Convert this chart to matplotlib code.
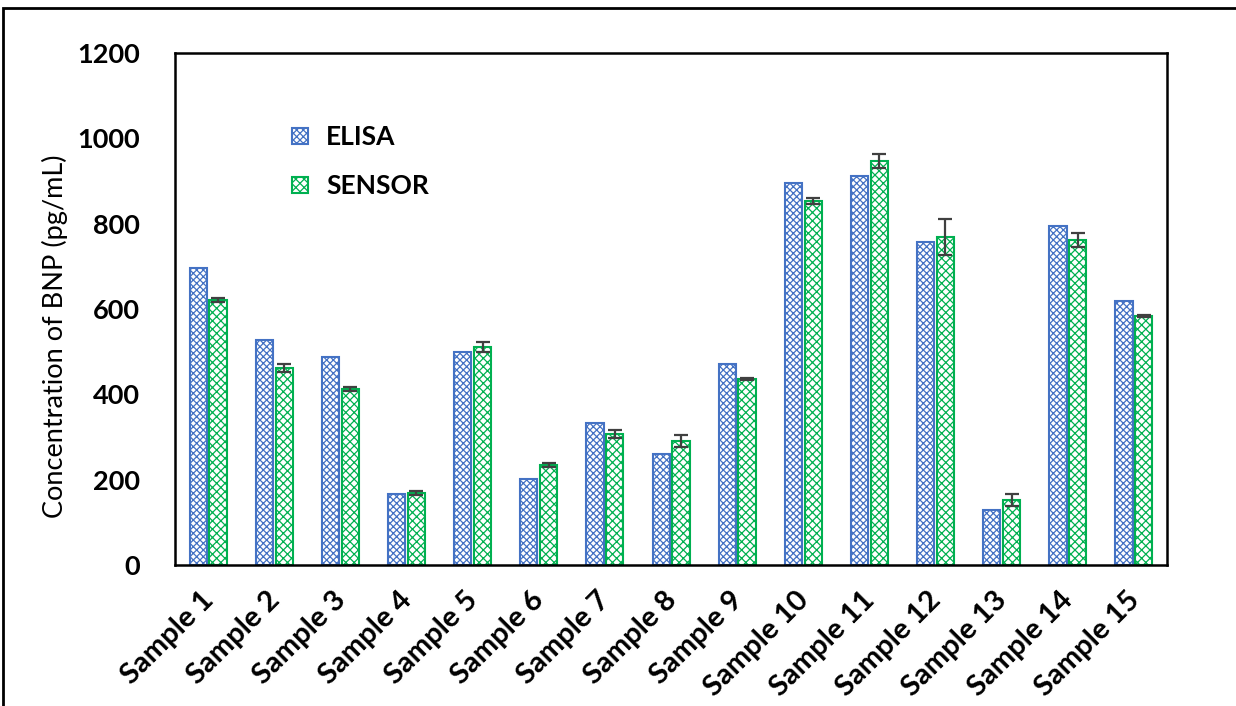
import numpy as np
import matplotlib.pyplot as plt
import matplotlib.transforms as mtransforms
from matplotlib.patches import Rectangle

samples = ['Sample %d' % i for i in range(1, 16)]
elisa = [696, 527, 487, 166, 499, 201, 333, 260, 471, 895, 912, 757, 129, 794, 619]
sensor = [621, 462, 412, 169, 511, 234, 307, 290, 436, 853, 947, 769, 152, 762, 584]
sensor_err = [4, 10, 4, 4, 12, 4, 10, 14, 3, 7, 17, 43, 14, 17, 3]

plt.rcParams['font.family'] = ['Lato', 'DejaVu Sans']
plt.rcParams['hatch.linewidth'] = 0.9

blue = '#4472C4'
green = '#00B050'

fig = plt.figure(figsize=(12.36, 7.06), dpi=100)
ax = fig.add_axes([0.1416, 0.1997, 0.8026, 0.7253])

x = np.arange(len(samples))
w = 0.26
ax.bar(x - w / 2 - 0.02, elisa, w, color='white', edgecolor=blue, hatch='xxxxx',
       linewidth=1.5, label='ELISA')
ax.bar(x + w / 2 + 0.02, sensor, w, color='white', edgecolor=green, hatch='xxxx',
       linewidth=1.5, label='SENSOR')
ax.errorbar(x + w / 2 + 0.02, sensor, yerr=sensor_err, fmt='none', ecolor='#404040',
            elinewidth=1.6, capsize=5, capthick=1.6)

ax.set_xlim(-0.5, len(samples) - 0.5)
ax.set_ylim(0, 1200)
ax.set_yticks(range(0, 1201, 200))
ax.set_xticks(x)
ax.set_xticklabels([])

# rotated category labels, nudged below the axis
lab_trans = ax.get_xaxis_transform() + mtransforms.ScaledTranslation(
    -0.08, -0.22, fig.dpi_scale_trans)
for xi, name in zip(x, samples):
    ax.text(xi, 0, name, transform=lab_trans, rotation=45, ha='right', va='top',
            rotation_mode='anchor', fontsize=21, fontweight='bold')

for lab in ax.get_yticklabels():
    lab.set_fontsize(19.5)
    lab.set_fontweight('bold')
ax.tick_params(axis='y', length=0, pad=25)
ax.tick_params(axis='x', length=0)
ax.set_ylabel('Concentration of BNP (pg/mL)', fontsize=19.5)
ax.yaxis.set_label_coords(-0.108, 0.447)

for s in ax.spines.values():
    s.set_linewidth(1.8)
    s.set_color('black')

ax.legend(loc='upper left', bbox_to_anchor=(0.094, 0.905), frameon=False,
          prop={'size': 19, 'weight': 'bold'}, handlelength=0.6, handleheight=0.6,
          labelspacing=0.95, handletextpad=0.7)

# outer frame line along the top and left of the figure
fig.patches.append(Rectangle((3 / 1236, -0.1), 1.2, (698 / 706) + 0.1,
                             transform=fig.transFigure, fill=False,
                             edgecolor='black', linewidth=2))

fig.savefig('out.png', dpi=100)
